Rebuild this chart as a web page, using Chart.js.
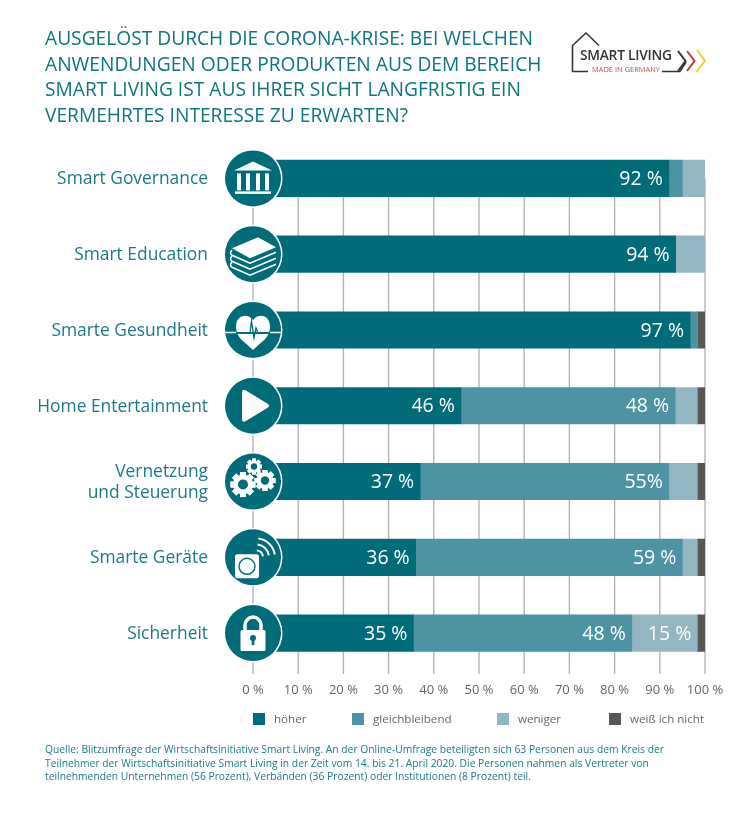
<!DOCTYPE html>
<html lang="de">
<head>
<meta charset="UTF-8">
<title>Smart Living Umfrage</title>
<script src="https://cdn.jsdelivr.net/npm/chart.js@4.4.0/dist/chart.umd.min.js"></script>
<style>
  html, body { margin: 0; padding: 0; background: #fff; }
  #wrap { position: relative; width: 746px; height: 814px; overflow: hidden; font-family: "Open Sans", sans-serif; }
  #chart { position: absolute; left: 0; top: 0; }
  #title { position: absolute; left: 45px; top: 25px; font-size: 19.2px; line-height: 25.7px; color: #0f7482; white-space: nowrap; }
  #note { position: absolute; left: 45px; top: 743px; font-size: 10.3px; line-height: 13.7px; color: #1c7a87; white-space: nowrap; }
  #logo { position: absolute; left: 560px; top: 20px; }
  .lg { position: absolute; top: 712px; font-size: 11.6px; line-height: 14px; color: #666; white-space: nowrap; }
  .lg i { position: absolute; left: -21px; top: 1px; width: 12px; height: 12px; }
</style>
</head>
<body>
<div id="wrap">
  <canvas id="chart" width="746" height="814"></canvas>
  <div id="title">AUSGELÖST DURCH DIE CORONA-KRISE: BEI WELCHEN<br>ANWENDUNGEN ODER PRODUKTEN AUS DEM BEREICH<br>SMART LIVING IST AUS IHRER SICHT LANGFRISTIG EIN<br>VERMEHRTES INTERESSE ZU ERWARTEN?</div>
  <svg id="logo" width="186" height="90" viewBox="0 0 186 90">
    <path d="M28 51.5H12.5V25.5L26 13L39 25.5" fill="none" stroke="#333" stroke-width="1.6"/>
    <path d="M102 51.5H120L126 42" fill="none" stroke="#333" stroke-width="1.6"/>
    <text x="20" y="40" font-family="Open Sans" font-size="13.8" font-weight="600" fill="#333" textLength="92">SMART LIVING</text>
    <text x="32" y="52" font-family="Open Sans" font-size="7.4" fill="#c8484f" textLength="68">MADE IN GERMANY</text>
    <path d="M118 31L125.5 41L118 51" fill="none" stroke="#333" stroke-width="2"/>
    <path d="M127 31L134.5 41L127 51" fill="none" stroke="#c8353c" stroke-width="2"/>
    <path d="M137 30L145 41L136 52" fill="none" stroke="#ecd23f" stroke-width="2"/>
  </svg>
  <div id="legend"></div>
  <div id="note">Quelle: Blitzumfrage der Wirtschaftsinitiative Smart Living. An der Online-Umfrage beteiligten sich 63 Personen aus dem Kreis der<br>Teilnehmer der Wirtschaftsinitiative Smart Living in der Zeit vom 14. bis 21. April 2020. Die Personen nahmen als Vertreter von<br>teilnehmenden Unternehmen (56 Prozent), Verbänden (36 Prozent) oder Institutionen (8 Prozent) teil.</div>
</div>
<script>
// values
const categories = ['Smart Governance', 'Smart Education', 'Smarte Gesundheit', 'Home Entertainment', ['Vernetzung', 'und Steuerung'], 'Smarte Geräte', 'Sicherheit'];
const hoeher = [92, 93.5, 96.7, 46, 37, 36, 35.5];
const gleich = [3, 0, 1.6, 47.4, 55, 59, 48.3];
const weniger = [5, 6.5, 0, 4.9, 6.3, 3.3, 14.5];
const weissNicht = [0, 0, 1.7, 1.7, 1.7, 1.7, 1.7];
const hoeherLabels = ['92 %', '94 %', '97 %', '46 %', '37 %', '36 %', '35 %'];
const gleichLabels = ['', '', '', '48 %', '55%', '59 %', '48 %'];
const wenigerLabels = ['', '', '', '', '', '', '15 %'];
const tickLabels = ['0 %', '10 %', '20 %', '30 %', '40 %', '50 %', '60 %', '70 %', '80 %', '90 %', '100 %'];
const seriesNames = ['höher', 'gleichbleibend', 'weniger', 'weiß ich nicht'];
const seriesColors = ['#006c7a', '#4e93a3', '#93b7c2', '#575756'];
const legendLeft = [274, 373, 518, 630];

const TEAL = '#006c7a';

// icons, drawn around the circle centre
const icons = [
  function bank(c) {
    c.beginPath(); c.moveTo(-19, -8); c.lineTo(0, -17); c.lineTo(19, -8); c.closePath(); c.fill();
    [-14, -5, 5, 14].forEach(x => c.fillRect(x - 2, -5, 4, 17));
    c.fillRect(-18, 13, 36, 2.5);
  },
  function books(c) {
    c.beginPath(); c.moveTo(-21, -6); c.lineTo(5, -17); c.lineTo(23, -7); c.lineTo(-3, 4); c.closePath(); c.fill();
    c.lineWidth = 1.6;
    [0, 6, 12].forEach(d => {
      c.beginPath(); c.moveTo(-21, -4 + d); c.quadraticCurveTo(-24, -1 + d, -21, 1 + d); c.lineTo(-3, 9 + d); c.lineTo(23, -2 + d); c.stroke();
    });
  },
  function heart(c) {
    c.beginPath(); c.moveTo(0, 20);
    c.bezierCurveTo(-8, 12, -17, 8, -17, -3); c.bezierCurveTo(-17, -16, -5, -17, 0, -10);
    c.bezierCurveTo(5, -17, 17, -16, 17, -3); c.bezierCurveTo(17, 8, 8, 12, 0, 20);
    c.fill();
    // teal band across the heart, white line outside it
    c.fillStyle = TEAL; c.fillRect(-17, 2, 34, 2);
    c.strokeStyle = '#fff'; c.lineWidth = 1.5;
    c.beginPath(); c.moveTo(-28, 2.5); c.lineTo(-17, 2.5); c.moveTo(17, 2.5); c.lineTo(28, 2.5); c.stroke();
    c.strokeStyle = TEAL; c.lineWidth = 1.3;
    c.beginPath(); c.moveTo(-3, 3); c.lineTo(-1.5, -9); c.lineTo(1, 8); c.lineTo(3, -2); c.lineTo(5, 3); c.stroke();
  },
  function play(c) {
    c.lineJoin = 'round'; c.lineWidth = 4;
    c.beginPath(); c.moveTo(-9, -14); c.lineTo(14, 0); c.lineTo(-9, 14); c.closePath(); c.fill(); c.stroke();
  },
  function gears(c) {
    const gear = (x, y, r, teeth) => {
      c.save(); c.translate(x, y); c.fillStyle = '#fff';
      for (let i = 0; i < teeth; i++) { c.rotate(Math.PI * 2 / teeth); c.fillRect(-r * 0.24, -r, r * 0.48, r * 2); }
      c.beginPath(); c.arc(0, 0, r * 0.8, 0, Math.PI * 2); c.fill();
      c.fillStyle = TEAL; c.beginPath(); c.arc(0, 0, r * 0.4, 0, Math.PI * 2); c.fill();
      c.restore();
    };
    gear(1, -15, 8, 8);
    gear(-10, 3, 12.5, 8);
    gear(12, -1, 10.5, 8);
  },
  function device(c) {
    c.beginPath(); c.roundRect(-18, -3, 24, 24, 2.5); c.fill();
    c.lineWidth = 1.4; c.strokeStyle = TEAL;
    c.beginPath(); c.arc(-6, 9, 8, 0, Math.PI * 2); c.stroke();
    c.strokeStyle = '#fff'; c.lineWidth = 2;
    [7, 13, 19].forEach(r => { c.beginPath(); c.arc(3, 0, r, -1.45, -0.15); c.stroke(); });
  },
  function lock(c) {
    c.lineWidth = 3.5;
    c.beginPath(); c.moveTo(-8, -3); c.lineTo(-8, -8); c.arc(0, -8, 8, Math.PI, 0); c.lineTo(8, -3); c.stroke();
    c.beginPath(); c.roundRect(-12.5, -3, 25, 21, 1.5); c.fill();
    c.fillStyle = TEAL;
    c.beginPath(); c.arc(0, 5, 3, 0, Math.PI * 2); c.fill();
    c.fillRect(-1.3, 6, 2.6, 6);
  }
];

// vertical lines start at the first bar, so the built-in grid does not fit
const gridLines = {
  id: 'gridLines',
  beforeDatasetsDraw(chart) {
    const c = chart.ctx, x = chart.scales.x, y = chart.scales.y;
    c.save();
    c.strokeStyle = '#b4b4b4'; c.lineWidth = 1.4;
    x.ticks.forEach((t, i) => {
      const px = x.getPixelForTick(i);
      c.beginPath(); c.moveTo(px, y.getPixelForValue(0)); c.lineTo(px, chart.chartArea.bottom + 3); c.stroke();
    });
    c.restore();
  }
};

const barLabels = {
  id: 'barLabels',
  afterDatasetsDraw(chart) {
    const c = chart.ctx;
    c.save();
    c.font = '19.5px "Open Sans"'; c.fillStyle = '#fff'; c.textAlign = 'right'; c.textBaseline = 'middle';
    chart.data.datasets.forEach((ds, d) => {
      if (!ds.texts) return;
      chart.getDatasetMeta(d).data.forEach((bar, i) => {
        if (ds.texts[i]) c.fillText(ds.texts[i], bar.x - 6, bar.y + 1);
      });
    });
    c.restore();
  }
};

const iconCircles = {
  id: 'iconCircles',
  afterDatasetsDraw(chart) {
    const c = chart.ctx, x0 = chart.scales.x.getPixelForValue(0);
    categories.forEach((cat, i) => {
      const y = chart.scales.y.getPixelForValue(i);
      c.save();
      c.translate(x0, y);
      c.fillStyle = '#fff'; c.beginPath(); c.arc(0, 0, 29.5, 0, Math.PI * 2); c.fill();
      c.fillStyle = TEAL; c.beginPath(); c.arc(0, 0, 28, 0, Math.PI * 2); c.fill();
      c.fillStyle = '#fff'; c.strokeStyle = '#fff';
      icons[i](c);
      c.restore();
    });
  }
};

new Chart(document.getElementById('chart'), {
  type: 'bar',
  data: {
    labels: categories,
    datasets: [
      { label: seriesNames[0], data: hoeher, backgroundColor: seriesColors[0], texts: hoeherLabels },
      { label: seriesNames[1], data: gleich, backgroundColor: seriesColors[1], texts: gleichLabels },
      { label: seriesNames[2], data: weniger, backgroundColor: seriesColors[2], texts: wenigerLabels },
      { label: seriesNames[3], data: weissNicht, backgroundColor: seriesColors[3] }
    ]
  },
  plugins: [gridLines, barLabels, iconCircles],
  options: {
    indexAxis: 'y',
    responsive: false,
    animation: false,
    layout: { padding: { top: 140.5, right: 41 } },
    datasets: { bar: { barThickness: 36.5, borderSkipped: false } },
    plugins: { legend: { display: false }, tooltip: { enabled: false } },
    scales: {
      x: {
        stacked: true, min: 0, max: 100,
        afterBuildTicks(axis) { axis.ticks = tickLabels.map((t, i) => ({ value: i * 10 })); },
        afterFit(axis) { axis.height = 143; },
        grid: { display: false }, border: { display: false },
        ticks: {
          autoSkip: false, maxRotation: 0, padding: 3, color: '#666',
          font: { family: 'Open Sans', size: 13 },
          callback: (v, i) => tickLabels[i]
        }
      },
      y: {
        stacked: true,
        afterFit(axis) { axis.width = 253; },
        grid: { display: false }, border: { display: false },
        ticks: {
          padding: 37, color: '#1c7a87', autoSkip: false, labelOffset: 1,
          font: { family: 'Open Sans', size: 17.4, lineHeight: 1.2 }
        }
      }
    }
  }
});

// legend row from the same series arrays
const legendBox = document.getElementById('legend');
seriesNames.forEach((name, i) => {
  const el = document.createElement('div');
  el.className = 'lg';
  el.style.left = legendLeft[i] + 'px';
  el.innerHTML = '<i style="background:' + seriesColors[i] + '"></i>' + name;
  legendBox.appendChild(el);
});
</script>
</body>
</html>
